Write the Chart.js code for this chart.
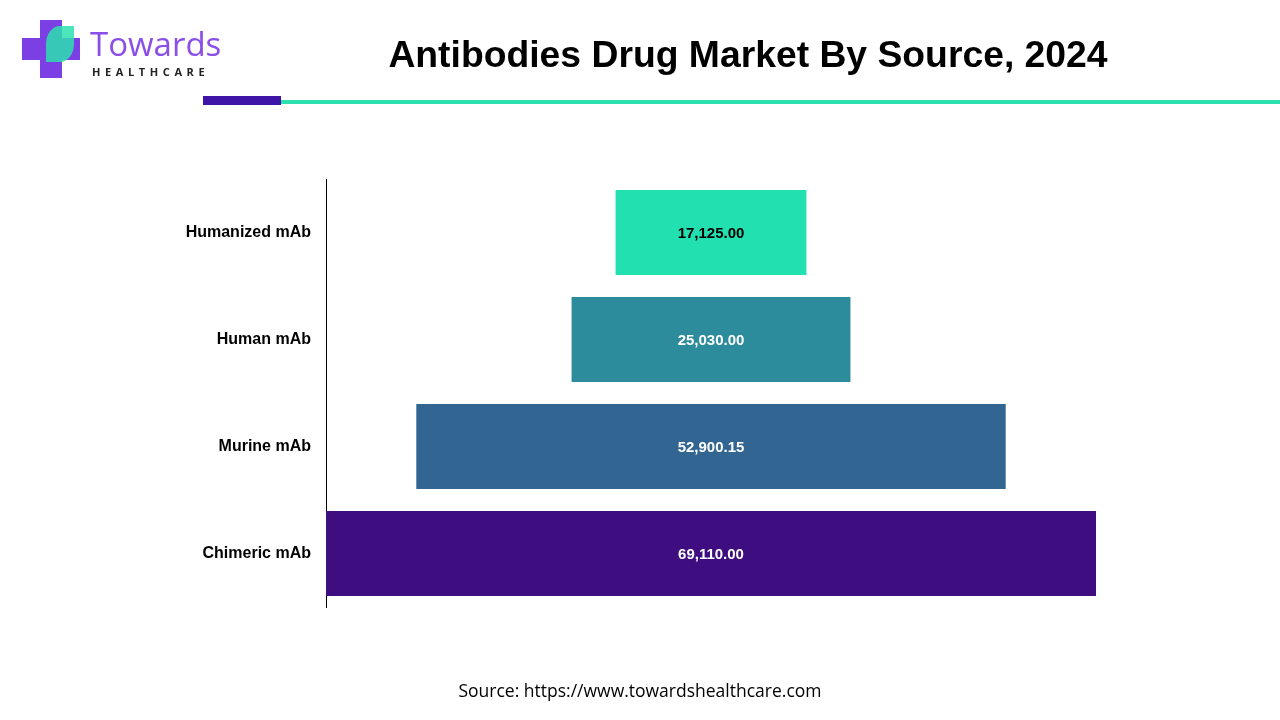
<!DOCTYPE html>
<html>
<head>
<meta charset="utf-8">
<script src="https://cdn.jsdelivr.net/npm/chart.js@4"></script>
<style>
  body { margin: 0; width: 1280px; height: 720px; background: #fff; font-family: "Liberation Sans", Arial, sans-serif; overflow: hidden; }
  #wrap { position: absolute; left: 0; top: 0; width: 1280px; height: 720px; }
  #title { position: absolute; left: 220px; width: 1056px; top: 33px; text-align: center; font-size: 37.3px; font-weight: bold; color: #000; }
  #bar1 { position: absolute; left: 203px; top: 96px; width: 78px; height: 9px; background: #3f15a8; }
  #bar2 { position: absolute; left: 281px; top: 100px; width: 999px; height: 4px; background: #2de0b0; }
  #source { position: absolute; left: 0; width: 1280px; top: 678px; text-align: center; font-size: 17.5px; font-family: "Open Sans", sans-serif; color: #000; }
  #logo { position: absolute; left: 22px; top: 20px; }
  .cv { position: absolute; background: #7b3fe4; }
  #brand { position: absolute; left: 68px; top: 4px; font-family: "Open Sans", sans-serif; font-size: 33px; color: #8a4fe8; line-height: 40px; }
  #sub { position: absolute; left: 70px; top: 44px; font-family: "Open Sans", sans-serif; font-size: 11px; letter-spacing: 4.6px; font-weight: bold; color: #222; }
</style>
</head>
<body>
<div id="wrap"><canvas id="c" width="1280" height="720"></canvas></div>
<div id="logo">
  <div class="cv" style="left:18px;top:0;width:22px;height:58px;"></div>
  <div class="cv" style="left:0;top:18px;width:58px;height:22px;"></div>
  <div style="position:absolute;left:24px;top:6px;width:28px;height:36px;border-radius:50% 0 50% 0;background:#2de0b0;opacity:0.85;"></div>
  <div id="brand">Towards</div>
  <div id="sub">HEALTHCARE</div>
</div>
<div id="title">Antibodies Drug Market By Source, 2024</div>
<div id="bar1"></div><div id="bar2"></div>
<div id="source">Source: https://www.towardshealthcare.com</div>
<script>
const categories = ['Humanized mAb', 'Human mAb', 'Murine mAb', 'Chimeric mAb'];
const values = [17125.00, 25030.00, 52900.15, 69110.00];
const colors = ['#22e0b0', '#2d8c9c', '#336592', '#3e0e80'];
const labelColors = ['#000', '#fff', '#fff', '#fff'];

const maxV = Math.max(...values);
const mid = maxV / 2;

const labelPlugin = {
  id: 'labels',
  afterDatasetsDraw(chart) {
    const ctx = chart.ctx;
    const meta = chart.getDatasetMeta(0);
    ctx.save();
    ctx.font = 'bold 15px "Liberation Sans", Arial, sans-serif';
    ctx.textAlign = 'center';
    ctx.textBaseline = 'middle';
    meta.data.forEach((bar, i) => {
      ctx.fillStyle = labelColors[i];
      const txt = values[i].toLocaleString('en-US', {minimumFractionDigits: 2, maximumFractionDigits: 2});
      ctx.fillText(txt, (bar.x + bar.base) / 2, bar.y + 1);
    });
    ctx.restore();
  }
};

new Chart(document.getElementById('c'), {
  type: 'bar',
  data: {
    labels: categories,
    datasets: [{
      data: values.map(v => [mid - v / 2, mid + v / 2]),
      backgroundColor: colors,
      barPercentage: 0.794,
      categoryPercentage: 1
    }]
  },
  plugins: [labelPlugin],
  options: {
    indexAxis: 'y',
    responsive: false,
    animation: false,
    layout: { padding: { top: 179, bottom: 113, right: 184, left: 0 } },
    plugins: { legend: { display: false }, tooltip: { enabled: false } },
    scales: {
      x: { display: false, min: 0, max: maxV },
      y: {
        afterFit: s => { s.width = 326; },
        grid: { display: false, drawTicks: false },
        border: { color: '#000', width: 1 },
        ticks: { color: '#000', padding: 15, font: { size: 16, weight: 'bold', family: '"Liberation Sans", Arial, sans-serif' } }
      }
    }
  }
});
</script>
</body>
</html>
